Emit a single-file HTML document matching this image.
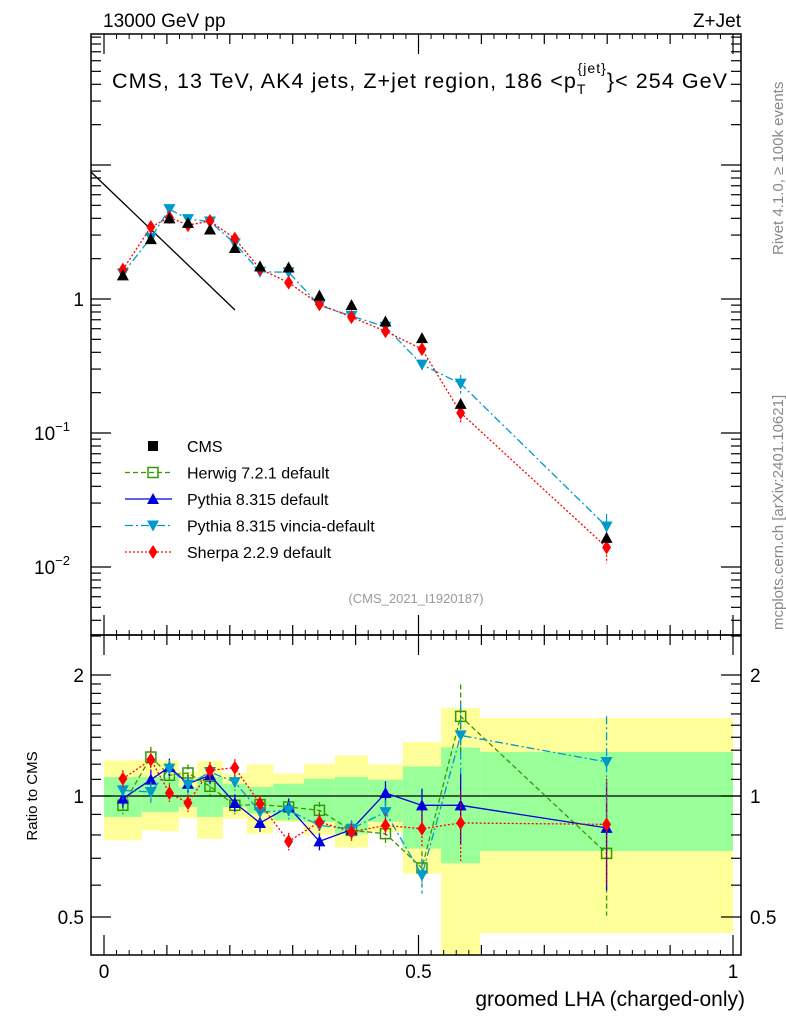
<!DOCTYPE html>
<html><head><meta charset="utf-8"><style>
body{margin:0;background:#fff}
svg{display:block;font-family:"Liberation Sans",sans-serif}
</style></head><body>
<svg id="c" width="786" height="1024" viewBox="0 0 786 1024" xmlns="http://www.w3.org/2000/svg">
<g id="bands"></g>
<g id="marks"></g>
<g id="axes"></g>
<text x="103" y="27" font-size="19">13000 GeV pp</text>
<text x="741" y="27" font-size="19" text-anchor="end">Z+Jet</text>
<text x="112" y="88" font-size="21.5" textLength="615" lengthAdjust="spacing">CMS, 13 TeV, AK4 jets, Z+jet region, 186 &lt;p<tspan font-size="14" dy="6">T</tspan><tspan font-size="14" dx="-9" dy="-21">{jet}</tspan><tspan dy="15">}&lt; 254 GeV</tspan></text>
<text x="416" y="603" font-size="13" fill="#999" text-anchor="middle">(CMS_2021_I1920187)</text>
<text transform="translate(783,255) rotate(-90)" font-size="15" fill="#888">Rivet 4.1.0, ≥ 100k events</text>
<text transform="translate(783,630) rotate(-90)" font-size="15" fill="#888">mcplots.cern.ch [arXiv:2401.10621]</text>
<text transform="translate(37,796) rotate(-90)" font-size="15" text-anchor="middle">Ratio to CMS</text>
<text x="745" y="1006" font-size="21" text-anchor="end">groomed LHA (charged-only)</text>
<g id="legend"></g>
</svg>
<script>
const binEdges=[0,0.06,0.089,0.119,0.148,0.189,0.227,0.269,0.318,0.367,0.42,0.475,0.536,0.598,1];
const cmsValues=[1.5,2.8,4.0,3.7,3.3,2.4,1.75,1.72,1.06,0.9,0.68,0.51,0.165,0.0165];
const herwigRatio=[0.948,1.25,1.126,1.141,1.057,0.948,0.952,0.939,0.921,0.821,0.806,0.662,1.578,0.72];
const pythiaRatio=[0.985,1.098,1.18,1.073,1.126,0.961,0.857,0.939,0.771,0.825,1.017,0.948,0.948,0.833];
const vinciaRatio=[1.033,1.023,1.17,1.067,1.147,1.083,0.912,0.921,0.845,0.829,0.912,0.635,1.415,1.215];
const sherpaRatio=[1.104,1.231,1.017,0.961,1.158,1.176,0.957,0.771,0.862,0.814,0.845,0.829,0.857,0.85];
const ratioErr=[0.05,0.06,0.05,0.05,0.05,0.05,0.05,0.05,0.05,0.05,0.07,0.1,0.2,0.3];
const yellowHi=[1.227,1.227,1.227,1.147,1.222,1.137,1.199,1.137,1.203,1.262,1.199,1.362,1.655,1.563];
const yellowLo=[0.776,0.821,0.817,0.882,0.783,0.878,0.806,0.862,0.799,0.744,0.814,0.641,0.35,0.456];
const greenHi=[1.115,1.115,1.115,1.053,1.115,1.073,1.053,1.073,1.104,1.115,1.098,1.185,1.32,1.287];
const greenLo=[0.887,0.912,0.912,0.939,0.887,0.939,0.904,0.870,0.862,0.806,0.862,0.740,0.68,0.73];

const NS="http://www.w3.org/2000/svg";
const X=v=>104+v*629;
const YM=v=>299-Math.log10(v)*134;
const YR=v=>796-Math.log2(v)*121;
const L=91,R=741,T=34,MB=635,RB=955;
function el(tag,attrs,parent){const e=document.createElementNS(NS,tag);for(const k in attrs)e.setAttribute(k,attrs[k]);parent.appendChild(e);return e;}
const bands=document.getElementById('bands'),marks=document.getElementById('marks'),axes=document.getElementById('axes'),legend=document.getElementById('legend');
const centers=binEdges.slice(0,-1).map((e,i)=>(e+binEdges[i+1])/2);
const clipR=v=>Math.min(RB,Math.max(MB,v));

for(let i=0;i<centers.length;i++){
  const x0=X(binEdges[i]),x1=X(binEdges[i+1]);
  const y=el('rect',{x:x0,y:clipR(YR(yellowHi[i])),width:x1-x0,height:clipR(YR(yellowLo[i]))-clipR(YR(yellowHi[i])),fill:'#ffff99'},bands);
  
  
  const g=el('rect',{x:x0,y:YR(greenHi[i]),width:x1-x0,height:YR(greenLo[i])-YR(greenHi[i]),fill:'#99ff99'},bands);
  
  
}
el('line',{x1:L,x2:R,y1:YR(1),y2:YR(1),stroke:'#000','stroke-width':1.3},bands);

function marker(kind,x,y,color,parent){
  if(kind==='sq') return el('rect',{x:x-5,y:y-5,width:10,height:10,fill:'none',stroke:color,'stroke-width':1.5},parent);
  if(kind==='fsq') return el('rect',{x:x-5,y:y-5,width:10,height:10,fill:color},parent);
  if(kind==='up') return el('polygon',{points:`${x},${y-6} ${x-6},${y+5} ${x+6},${y+5}`,fill:color},parent);
  if(kind==='down') return el('polygon',{points:`${x},${y+6} ${x-6},${y-5} ${x+6},${y-5}`,fill:color},parent);
  return el('polygon',{points:`${x},${y-7} ${x-4.5},${y} ${x},${y+7} ${x+4.5},${y}`,fill:color},parent);
}
const series=[
 {name:'herwig',ratio:herwigRatio,color:'#339900',dash:'5,3',kind:'sq',main:false,label:'Herwig 7.2.1 default'},
 {name:'pythia',ratio:pythiaRatio,color:'#0000dd',dash:'',kind:'up',main:false,label:'Pythia 8.315 default'},
 {name:'vincia',ratio:vinciaRatio,color:'#0099cc',dash:'8,3,2,3',kind:'down',main:true,label:'Pythia 8.315 vincia-default'},
 {name:'sherpa',ratio:sherpaRatio,color:'#ff0000',dash:'2,2',kind:'dia',main:true,label:'Sherpa 2.2.9 default'}
];
series.forEach(s=>{
  const pts=centers.map((c,i)=>X(c)+','+YR(s.ratio[i])).join(' ');
  const pl=el('polyline',{points:pts,fill:'none',stroke:s.color,'stroke-width':1.3,'stroke-dasharray':s.dash},marks);
  
  
  centers.forEach((c,i)=>{
    const x=X(c),r=s.ratio[i],e=ratioErr[i];
    el('line',{x1:x,x2:x,y1:clipR(YR(r*(1+e))),y2:clipR(YR(r*(1-e))),stroke:s.color,'stroke-width':1.3,'stroke-dasharray':s.dash},marks);
    const m=marker(s.kind,x,YR(r),s.color,marks);
    
    
  });
});
el('line',{x1:L,y1:172,x2:235,y2:310,stroke:'#000','stroke-width':1.3},marks);
series.filter(s=>s.main).forEach(s=>{
  const vals=centers.map((c,i)=>cmsValues[i]*s.ratio[i]);
  const pl=el('polyline',{points:centers.map((c,i)=>X(c)+','+YM(vals[i])).join(' '),fill:'none',stroke:s.color,'stroke-width':1.3,'stroke-dasharray':s.dash},marks);
  
  
  centers.forEach((c,i)=>{
    const e=ratioErr[i]*0.8;
    el('line',{x1:X(c),x2:X(c),y1:YM(vals[i]*(1+e)),y2:YM(vals[i]*(1-e)),stroke:s.color,'stroke-width':1.2,'stroke-dasharray':s.dash},marks);
    const m=marker(s.kind,X(c),YM(vals[i]),s.color,marks);
    
    
  });
});
centers.forEach((c,i)=>{
  const m=marker('up',X(c),YM(cmsValues[i]),'#000',marks);
  
  
});
el('rect',{x:L,y:T,width:R-L,height:MB-T,fill:'none',stroke:'#000','stroke-width':1.5},axes);
el('rect',{x:L,y:MB,width:R-L,height:RB-MB,fill:'none',stroke:'#000','stroke-width':1.5},axes);
for(let d=-3;d<=2;d++)for(let k=1;k<10;k++){
  const v=k*Math.pow(10,d),y=YM(v);if(y<T||y>MB)continue;
  const len=k===1?20:10;
  el('line',{x1:L,x2:L+len,y1:y,y2:y,stroke:'#000','stroke-width':1.2},axes);
  el('line',{x1:R,x2:R-len,y1:y,y2:y,stroke:'#000','stroke-width':1.2},axes);
}
[[1,'1',''],[0.1,'10','−1'],[0.01,'10','−2']].forEach(([v,b,e])=>{
  const t=el('text',{x:e?70:84,y:YM(v)+7,'font-size':19,'text-anchor':'end'},axes);
  t.textContent=b;
  
  
  if(e){const s=el('tspan',{'font-size':13,dy:-9},t);s.textContent=e;}
});
[0.4,0.5,0.6,0.7,0.8,0.9,1,1.1,1.2,1.3,1.4,1.5,1.6,1.7,1.8,1.9,2,2.5].forEach(v=>{
  const y=YR(v);if(y<MB||y>RB)return;
  const len=(v===0.5||v===1||v===2)?20:10;
  el('line',{x1:L,x2:L+len,y1:y,y2:y,stroke:'#000','stroke-width':1.2},axes);
  el('line',{x1:R,x2:R-len,y1:y,y2:y,stroke:'#000','stroke-width':1.2},axes);
});
[[0.5,'0.5'],[1,'1'],[2,'2']].forEach(([v,s])=>{
  const a=el('text',{x:84,y:YR(v)+7,'font-size':19,'text-anchor':'end'},axes);a.textContent=s;
  
  
  const b=el('text',{x:750,y:YR(v)+7,'font-size':19},axes);b.textContent=s;
  
  
});
for(let i=0;i<=10;i++){
  const v=i/10,x=X(v),len=(i%5===0)?20:10;
  [[T,1],[MB,-1],[MB,1],[RB,-1]].forEach(([y0,dir])=>el('line',{x1:x,x2:x,y1:y0,y2:y0+dir*len,stroke:'#000','stroke-width':1.2},axes));
}
for(let i=1;i<50;i++){const v=i/50;if(i%5)[[T,1],[MB,-1],[MB,1],[RB,-1]].forEach(([y0,dir])=>el('line',{x1:X(v),x2:X(v),y1:y0,y2:y0+dir*5,stroke:'#000','stroke-width':1},axes));}
[[0,'0'],[0.5,'0.5'],[1,'1']].forEach(([v,s])=>{
  const t=el('text',{x:X(v),y:978,'font-size':19,'text-anchor':'middle'},axes);t.textContent=s;
  
  
});
const leg=[{label:'CMS',kind:'fsq',color:'#000',dash:null}].concat(series);
leg.forEach((s,i)=>{
  const y=446+i*26.5;
  if(s.dash!==null) el('line',{x1:125,x2:172,y1:y,y2:y,stroke:s.color,'stroke-width':1.3,'stroke-dasharray':s.dash},legend);
  const m=marker(s.kind,153,y,s.color,legend);
  
  
  const t=el('text',{x:187,y:y+6,'font-size':16},legend);t.textContent=s.label;
  
  
});
</script>
</body></html>
